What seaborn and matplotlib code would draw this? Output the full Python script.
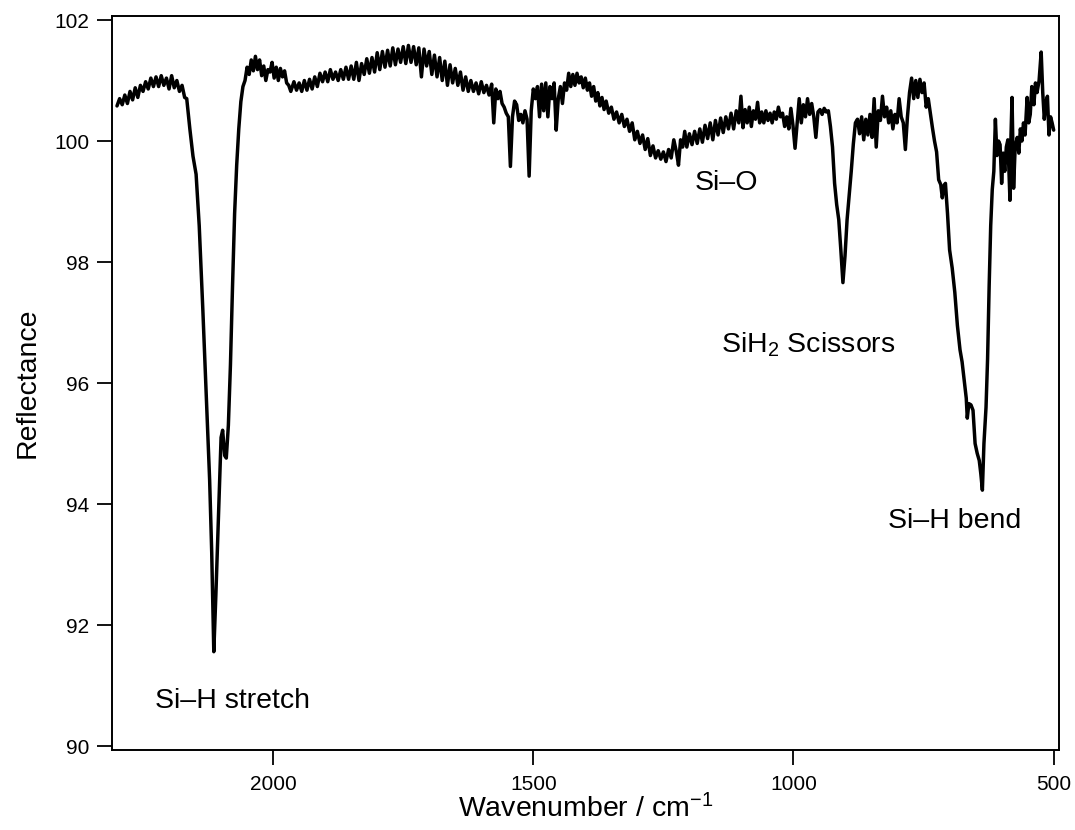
import pandas as pd
import matplotlib
matplotlib.use("Agg")
import matplotlib.pyplot as plt
import seaborn as sns

# Reflectance IR spectrum of porous silicon
wavenumber = [
    2300, 2295, 2290, 2285, 2280, 2275, 2270, 2265, 2260, 2255, 2250, 2245, 2240, 2235, 2230,
    2225, 2220, 2215, 2210, 2205, 2200, 2195, 2190, 2185, 2180, 2175, 2170,
    # Si-H stretch
    2166, 2160, 2154, 2148, 2142, 2135, 2128, 2122, 2118, 2114, 2110, 2105, 2100, 2097, 2093,
    2090, 2086, 2082, 2078, 2074, 2070, 2066, 2062, 2058, 2054, 2050, 2046, 2042, 2038, 2034,
    2030, 2026, 2022, 2018, 2014, 2010, 2006, 2002, 1998, 1994, 1990, 1986, 1982, 1978, 1974,
    1970, 1966, 1960, 1955, 1950, 1945, 1940, 1935, 1930, 1925, 1920, 1915, 1910, 1905, 1900,
    1895, 1890, 1885, 1880, 1875, 1870, 1865, 1860, 1855, 1850, 1845, 1840, 1835, 1830, 1825,
    1820, 1815, 1810, 1805, 1800, 1795, 1790, 1785, 1780, 1775, 1770, 1765, 1760, 1755, 1750,
    1745, 1740, 1735, 1730, 1725, 1720, 1715, 1710, 1705, 1700, 1695, 1690, 1685, 1680, 1675,
    1670, 1665, 1660, 1655, 1650, 1645, 1640, 1635, 1630, 1625, 1620, 1615, 1610, 1605, 1600,
    1595, 1590, 1585, 1580, 1576, 1572, 1568, 1564, 1560, 1556, 1552, 1548, 1544, 1540, 1536,
    1532, 1528, 1524, 1520, 1516, 1512, 1508, 1504, 1500, 1496, 1492, 1488, 1484, 1480, 1476,
    1472, 1468, 1464, 1460, 1456, 1452, 1448, 1444, 1440, 1436, 1432, 1428, 1424, 1420, 1416,
    1412, 1408, 1404, 1400, 1396, 1392, 1388, 1384, 1380, 1376, 1372, 1368, 1364, 1360, 1355,
    1350, 1345, 1340, 1335, 1330, 1325, 1320, 1315, 1310, 1305, 1300, 1295, 1290, 1285, 1280,
    1275, 1270, 1265, 1260, 1255, 1250, 1245, 1240, 1235, 1230, 1225, 1221, 1217, 1213, 1209,
    1205, 1200, 1195, 1190, 1185, 1180, 1175, 1170, 1165, 1160, 1155, 1150, 1145, 1140, 1135,
    1130, 1125, 1120, 1115, 1110, 1105, 1101, 1097, 1093, 1089, 1085, 1081, 1077, 1073, 1069,
    1065, 1061, 1057, 1053, 1049, 1045, 1041, 1037, 1033, 1029, 1025, 1021, 1017, 1013, 1009,
    1005, 1001, 997, 993, 989, 985, 981, 977, 973, 969, 965, 961, 957, 953, 949,
    945, 941, 937, 933, 929,
    # SiH2 scissors
    925, 921, 917, 913, 909, 905, 901, 897, 893, 889, 885, 881, 877, 873, 869,
    865, 861, 857, 853, 849, 845, 841, 837, 833, 829, 825, 821, 817, 813, 809,
    805, 801, 797, 793, 789, 785, 781, 777, 773, 769, 765, 761, 757, 753, 749,
    745, 741, 737, 733, 729,
    # Si-H bend
    725, 721, 717, 714, 711, 708, 704, 700, 695, 690, 685, 680, 676, 672, 668,
    666, 663, 659, 655, 651, 647, 643, 640, 637, 634, 630, 627, 624, 621, 618,
    615, 612, 609, 606, 603, 600, 597, 594, 591, 588, 586, 584, 582, 580, 577,
    574, 570, 567, 564, 561, 558, 555, 551, 548, 545, 542, 538, 535, 532, 528,
    524, 521, 518, 515, 512, 509, 506, 503, 500,
]
reflectance = [
    100.58, 100.70, 100.60, 100.76, 100.62, 100.82, 100.68, 100.88, 100.72, 100.92, 100.82, 100.98, 100.86, 101.04, 100.90,
    101.06, 100.90, 101.08, 100.92, 101.04, 100.86, 101.08, 100.88, 101.00, 100.82, 100.92, 100.72,
    100.70, 100.20, 99.75, 99.45, 98.60, 97.20, 95.70, 94.40, 93.20, 91.56, 92.50, 93.80, 95.10, 95.22, 94.80,
    94.76, 95.30, 96.30, 97.60, 98.80, 99.60, 100.20, 100.65, 100.90, 101.00, 101.22, 101.10, 101.34, 101.16, 101.40,
    101.18, 101.34, 101.08, 101.24, 101.00, 101.18, 101.14, 101.30, 101.04, 101.22, 101.00, 101.20, 101.06, 101.16, 100.96,
    100.92, 100.82, 100.98, 100.84, 100.96, 100.82, 101.00, 100.84, 101.02, 100.86, 101.06, 100.90, 101.12, 100.98, 101.14,
    100.98, 101.18, 101.02, 101.14, 101.00, 101.18, 101.02, 101.22, 101.02, 101.24, 101.02, 101.30, 101.00, 101.28, 101.10,
    101.36, 101.12, 101.38, 101.14, 101.46, 101.18, 101.48, 101.22, 101.50, 101.24, 101.54, 101.26, 101.52, 101.30, 101.56,
    101.28, 101.58, 101.30, 101.56, 101.26, 101.54, 101.06, 101.52, 101.24, 101.48, 101.10, 101.42, 101.06, 101.38, 101.00,
    101.32, 100.92, 101.26, 100.96, 101.20, 100.92, 101.14, 100.84, 101.06, 100.82, 101.00, 100.82, 100.96, 100.78, 100.98,
    100.80, 100.92, 100.76, 100.94, 100.30, 100.86, 100.70, 100.82, 100.62, 100.56, 100.46, 100.40, 99.58, 100.40, 100.66,
    100.60, 100.34, 100.44, 100.30, 100.50, 100.36, 99.42, 100.50, 100.86, 100.70, 100.90, 100.40, 100.94, 100.50, 100.96,
    100.40, 100.90, 100.70, 100.96, 100.18, 100.70, 100.90, 100.62, 100.96, 100.84, 101.12, 100.90, 101.10, 100.92, 101.12,
    100.96, 101.06, 100.88, 101.04, 100.84, 100.96, 100.74, 100.90, 100.66, 100.80, 100.58, 100.72, 100.52, 100.66, 100.46,
    100.56, 100.36, 100.48, 100.30, 100.44, 100.24, 100.36, 100.16, 100.30, 100.02, 100.16, 99.96, 100.10, 99.86, 100.04,
    99.76, 99.92, 99.72, 99.84, 99.70, 99.82, 99.66, 99.86, 99.72, 100.02, 99.82, 99.60, 100.02, 99.90, 100.16,
    99.90, 100.12, 99.94, 100.16, 99.96, 100.20, 99.98, 100.26, 100.04, 100.30, 100.02, 100.34, 100.10, 100.38, 100.14,
    100.40, 100.20, 100.46, 100.20, 100.50, 100.30, 100.74, 100.22, 100.52, 100.30, 100.56, 100.24, 100.50, 100.36, 100.64,
    100.30, 100.48, 100.30, 100.50, 100.34, 100.46, 100.30, 100.48, 100.36, 100.56, 100.40, 100.46, 100.24, 100.40, 100.20,
    100.54, 100.26, 99.88, 100.30, 100.70, 100.30, 100.60, 100.40, 100.70, 100.44, 100.62, 100.40, 100.06, 100.48, 100.52,
    100.44, 100.54, 100.48, 100.50, 100.24,
    99.90, 99.30, 98.95, 98.70, 98.20, 97.66, 98.10, 98.70, 99.10, 99.50, 99.95, 100.30, 100.36, 100.12, 100.40,
    100.02, 100.36, 100.10, 100.44, 100.06, 100.70, 99.90, 100.50, 100.34, 100.74, 100.40, 100.56, 100.30, 100.50, 100.20,
    100.44, 100.30, 100.70, 100.40, 100.30, 99.86, 100.40, 100.80, 101.04, 100.70, 101.00, 100.72, 101.02, 100.80, 100.96,
    100.56, 100.70, 100.46, 100.22, 100.00,
    99.82, 99.36, 99.28, 99.06, 99.26, 99.30, 98.80, 98.20, 97.90, 97.50, 96.95, 96.55, 96.35, 96.05, 95.75,
    95.42, 95.66, 95.64, 95.55, 95.00, 94.84, 94.72, 94.50, 94.23, 95.00, 95.60, 96.40, 97.60, 98.60, 99.20,
    99.50, 100.36, 99.76, 100.00, 99.94, 99.30, 99.80, 99.50, 99.90, 100.02, 99.50, 99.02, 100.10, 100.72, 99.22,
    99.90, 100.06, 99.80, 100.20, 100.00, 100.30, 100.10, 100.72, 100.30, 100.44, 100.90, 100.60, 100.96, 100.80, 101.00,
    101.47, 100.80, 100.36, 100.64, 100.74, 100.10, 100.40, 100.30, 100.18,
]

# band labels: (text, wavenumber of left edge, reflectance of baseline)
labels = ["Si\u2013H stretch", "Si\u2013O", "SiH$_2$ Scissors", "Si\u2013H bend"]
label_x = [2227, 1189, 1139, 819]
label_y = [90.63, 99.19, 96.51, 93.60]

df = pd.DataFrame({"Wavenumber": wavenumber, "Reflectance": reflectance})

sns.set_style("white")
plt.rcParams["font.family"] = ["Liberation Sans", "DejaVu Sans"]
plt.rcParams["mathtext.fontset"] = "custom"
plt.rcParams["mathtext.rm"] = "Liberation Sans"
plt.rcParams["mathtext.it"] = "Liberation Sans:italic"
plt.rcParams["text.color"] = "black"
plt.rcParams["axes.labelcolor"] = "black"

fig, ax = plt.subplots(figsize=(10.75, 8.3), dpi=100)
fig.subplots_adjust(left=0.104, right=0.985, top=0.981, bottom=0.096)

sns.lineplot(data=df, x="Wavenumber", y="Reflectance", ax=ax, color="black",
             linewidth=2.5, sort=False, estimator=None)

ax.set_xlim(2310, 490)
ax.set_ylim(89.93, 102.07)
ax.set_xticks([2000, 1500, 1000, 500])
ax.set_yticks([90, 92, 94, 96, 98, 100, 102])
ax.tick_params(axis="both", direction="out", length=11, width=1.3, labelsize=15,
               bottom=True, left=True, top=False, right=False, colors="black")
ax.tick_params(axis="x", pad=7)
ax.tick_params(axis="y", pad=5)
for sp in ax.spines.values():
    sp.set_linewidth(1.4)
    sp.set_color("black")

ax.set_xlabel("Wavenumber / cm$^{-1}$", fontsize=20.5, labelpad=0)
ax.set_ylabel("Reflectance", fontsize=20.5, labelpad=10)

for txt, lx, ly in zip(labels, label_x, label_y):
    ax.text(lx, ly, txt, fontsize=20.5, ha="left", va="baseline", color="black")

fig.savefig("out.png", dpi=100)
